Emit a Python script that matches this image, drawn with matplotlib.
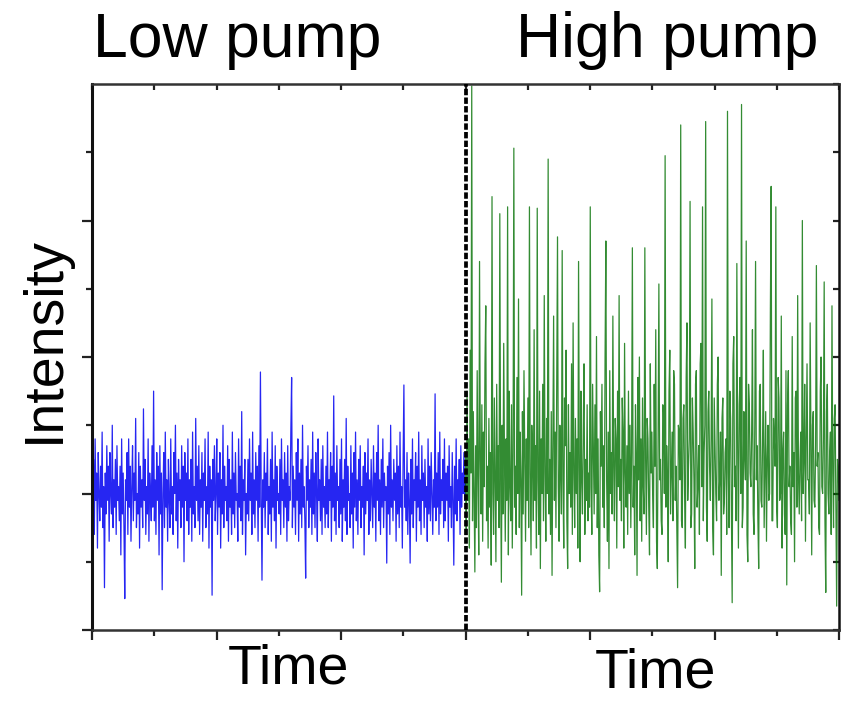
import numpy as np
import matplotlib
matplotlib.use("Agg")
import matplotlib.pyplot as plt

#######################################################
# values (axis units: 1 unit = one minor tick)
LOW_PUMP = [
    2.2, 1.7, 2.5, 1.4, 2.8, 1.9, 2.3, 1.2, 2.6, 2.0, 1.6, 2.4, 1.8, 2.9, 1.5, 2.1, 0.62, 2.3, 1.7, 2.7,
    1.9, 2.4, 1.3, 2.6, 2.0, 1.7, 3.0, 1.5, 2.2, 1.8, 2.5, 1.4, 2.7, 1.9, 2.1, 1.6, 2.4, 1.1, 2.8, 1.7,
    2.3, 1.5, 0.46, 2.2, 1.9, 2.6, 1.4, 2.8, 1.8, 2.4, 1.3, 2.1, 2.7, 1.6, 2.3, 1.9, 3.1, 1.5, 2.0, 1.7,
    2.6, 1.2, 2.4, 1.8, 2.2, 1.5, 3.24, 1.9, 2.5, 1.4, 2.1, 1.7, 2.8, 1.3, 2.3, 2.0, 1.6, 2.7, 1.8, 3.5,
    1.6, 2.2, 1.4, 2.6, 1.9, 2.4, 1.1, 2.7, 1.7, 2.3, 0.59, 2.0, 2.6, 1.5, 2.9, 1.8, 2.2, 1.3, 2.5, 1.9,
    1.5, 2.8, 1.7, 2.1, 1.4, 2.6, 2.0, 3.0, 1.6, 2.3, 1.2, 2.5, 1.9, 2.2, 1.5, 2.7, 1.8, 2.4, 1.0, 2.6,
    1.9, 2.3, 1.6, 2.8, 1.4, 2.2, 1.8, 2.5, 1.3, 2.9, 1.7, 2.1, 1.5, 3.1, 1.9, 2.4, 1.6, 2.7, 1.4, 2.2,
    1.8, 2.6, 1.3, 2.3, 1.9, 2.8, 1.5, 2.1, 1.7, 2.9, 1.2, 2.4, 1.8, 2.2, 0.51, 2.5, 1.9, 2.7, 1.6, 2.0,
    2.8, 1.4, 2.3, 1.8, 2.6, 1.2, 2.2, 1.7, 3.0, 1.5, 2.4, 1.9, 2.1, 1.6, 2.7, 1.3, 2.5, 1.8, 2.2, 1.4,
    2.9, 1.7, 2.3, 1.5, 2.6, 1.9, 2.0, 1.3, 2.8, 1.8, 2.4, 1.6, 3.2, 1.4, 2.2, 1.9, 2.5, 1.1, 2.0, 1.7,
    2.5, 1.6, 2.8, 1.9, 2.3, 1.4, 2.9, 1.7, 2.2, 1.5, 2.6, 1.9, 2.4, 1.3, 2.7, 1.8, 3.78, 2.0, 0.73, 2.2,
    1.8, 2.6, 1.5, 2.3, 1.9, 2.8, 1.4, 2.1, 1.7, 2.5, 1.3, 2.9, 1.8, 2.2, 1.6, 2.7, 1.2, 2.4, 1.9, 2.0,
    1.7, 2.5, 1.4, 2.8, 1.9, 2.2, 1.5, 2.6, 1.8, 2.3, 1.3, 2.7, 1.6, 2.1, 1.9, 2.9, 3.7, 1.5, 2.4, 1.8,
    2.2, 1.4, 2.6, 1.9, 2.8, 1.3, 2.3, 1.7, 2.5, 1.5, 3.0, 1.8, 2.1, 1.6, 0.76, 2.4, 1.9, 2.7, 1.5, 2.2,
    1.8, 2.5, 1.4, 2.9, 1.7, 2.3, 1.5, 2.6, 2.0, 1.3, 2.8, 1.9, 2.2, 1.6, 2.5, 1.4, 2.7, 1.8, 2.1, 1.5,
    2.4, 1.7, 2.9, 1.5, 2.2, 1.9, 2.6, 1.3, 2.4, 1.8, 3.43, 1.6, 2.3, 1.4, 2.7, 1.9, 2.1, 1.5, 2.5, 1.7,
    2.8, 1.3, 2.2, 1.8, 2.5, 1.6, 3.1, 1.4, 2.4, 1.9, 2.0, 1.5, 2.7, 1.7, 2.3, 1.2, 2.6, 1.8, 2.9, 1.6,
    2.2, 1.4, 2.5, 1.9, 2.7, 1.5, 2.1, 1.8, 2.4, 1.1, 2.6, 1.7, 2.3, 1.9, 2.8, 1.4, 2.2, 1.6, 2.5, 2.0,
    1.5, 2.7, 1.8, 2.3, 1.3, 2.6, 1.9, 3.0, 1.6, 2.2, 1.4, 2.5, 1.8, 2.8, 1.5, 2.3, 1.9, 2.1, 0.98, 2.4,
    1.7, 2.6, 1.4, 3.0, 1.8, 2.2, 1.6, 2.5, 1.9, 2.3, 1.3, 2.7, 1.7, 2.4, 1.5, 2.9, 1.8, 2.1, 1.2, 2.5,
    3.59, 1.8, 2.2, 1.6, 2.6, 1.4, 2.3, 1.9, 0.98, 2.5, 1.7, 2.8, 1.5, 2.2, 1.9, 2.6, 1.3, 2.4, 1.8, 2.9,
    1.6, 2.2, 1.4, 2.7, 1.9, 2.3, 1.5, 2.5, 1.8, 2.1, 1.3, 2.8, 1.7, 2.4, 1.6, 2.6, 2.0, 1.4, 2.2, 1.8,
    3.46, 1.6, 2.3, 1.8, 2.6, 1.4, 2.9, 1.7, 2.2, 1.9, 2.5, 1.5, 2.8, 1.6, 2.3, 1.9, 2.4, 1.3, 2.7, 1.8,
    2.1, 1.5, 2.6, 1.9, 0.95, 2.4, 1.7, 2.8, 1.6, 2.2, 1.9, 2.5, 1.4, 2.7, 1.8, 2.3, 2.0, 2.6, 1.9, 2.2,
]
HIGH_PUMP = [
    2.6, 1.4, 3.5, 1.9, 2.8, 1.2, 4.1, 2.3, 7.97, 1.6, 3.2, 2.0, 0.85, 2.7, 1.5, 3.8, 2.2, 1.1, 5.4, 2.5,
    1.7, 3.3, 1.3, 2.9, 2.1, 3.9, 4.75, 1.6, 2.4, 1.2, 3.1, 1.8, 2.6, 0.95, 6.35, 2.0, 1.4, 3.4, 2.2, 1.0,
    3.6, 1.9, 2.7, 1.5, 6.1, 2.3, 0.7, 3.0, 1.7, 4.2, 2.5, 1.3, 2.8, 1.9, 6.2, 1.1, 3.5, 2.1, 1.6, 3.3,
    1.2, 2.6, 7.06, 1.8, 2.4, 1.4, 3.7, 2.0, 4.85, 1.5, 2.9, 2.2, 0.51, 3.2, 1.7, 3.8, 2.5, 1.3, 2.8, 1.9,
    3.4, 1.5, 6.2, 2.3, 1.1, 3.0, 2.6, 1.6, 4.4, 1.9, 2.7, 1.2, 6.18, 2.2, 1.4, 3.5, 0.9, 2.8, 2.0, 3.6,
    1.6, 4.9, 2.3, 1.3, 3.1, 2.0, 6.9, 1.7, 2.5, 1.4, 3.2, 0.8, 2.6, 4.6, 1.9, 2.9, 1.5, 3.7, 5.76, 2.1,
    1.3, 3.0, 2.4, 1.7, 5.56, 2.2, 1.2, 3.4, 2.7, 4.1, 1.6, 0.9, 3.3, 2.0, 2.6, 1.8, 3.9, 1.4, 4.5, 2.3,
    1.5, 3.1, 2.0, 2.8, 1.2, 5.4, 2.4, 1.0, 3.5, 2.2, 1.7, 2.9, 3.9, 1.4, 2.5, 1.9, 3.3, 1.6, 2.3, 1.8,
    6.2, 2.1, 1.4, 3.6, 2.6, 1.7, 3.3, 2.0, 4.3, 1.5, 2.8, 1.1, 0.56, 3.2, 2.4, 3.6, 1.8, 2.7, 1.5, 4.0,
    5.7, 2.2, 1.3, 2.9, 0.9, 3.8, 2.0, 2.6, 1.7, 4.6, 2.4, 1.6, 3.1, 2.8, 1.2, 3.5, 2.1, 4.9, 1.9, 2.5,
    1.6, 3.4, 2.9, 1.2, 4.2, 2.3, 1.8, 2.7, 1.4, 3.5, 2.0, 3.0, 1.5, 2.6, 5.6, 1.8, 2.4, 1.1, 3.3, 2.6,
    0.8, 3.7, 2.2, 4.0, 1.6, 2.8, 1.3, 3.4, 2.1, 1.7, 5.6, 2.5, 1.4, 3.1, 2.8, 1.8, 1.1, 3.9, 2.3, 2.9,
    2.0, 1.5, 3.6, 2.4, 4.4, 1.3, 0.9, 2.8, 5.07, 2.2, 2.5, 1.6, 1.4, 3.3, 3.2, 2.0, 6.95, 1.8, 2.7, 2.3,
    1.0, 3.5, 4.1, 1.7, 2.3, 2.9, 1.6, 3.8, 3.6, 1.9, 2.4, 1.5, 0.62, 3.0, 2.9, 2.2, 7.4, 1.6, 1.5, 3.1,
    3.3, 2.0, 1.2, 3.7, 4.5, 1.9, 2.4, 2.8, 6.28, 1.5, 1.7, 3.4, 2.9, 2.2, 0.9, 3.6, 3.8, 1.8, 2.1, 2.7,
    1.4, 3.9, 4.2, 2.1, 6.2, 1.6, 2.6, 3.0, 7.45, 1.8, 1.3, 3.2, 3.5, 2.4, 1.9, 2.8, 4.85, 1.5, 1.1, 3.4,
    2.7, 2.0, 1.6, 3.6, 4.0, 1.9, 2.2, 2.9, 0.8, 3.1, 3.4, 1.7, 1.9, 2.6, 2.8, 1.4, 7.6, 2.3, 1.5, 3.5,
    3.1, 1.8, 0.4, 3.9, 4.3, 2.1, 2.4, 1.6, 5.37, 2.7, 1.2, 3.3, 3.7, 2.0, 7.7, 1.5, 1.8, 3.2, 2.6, 2.2,
    5.7, 1.4, 1.0, 3.6, 3.3, 2.3, 2.1, 2.9, 4.4, 1.7, 1.4, 3.0, 5.4, 2.2, 2.7, 1.6, 0.9, 3.5, 3.6, 1.9,
    1.8, 2.8, 4.1, 1.5, 2.3, 3.2, 1.3, 2.5, 3.0, 1.9, 2.0, 4.7, 6.5, 1.6, 1.6, 3.1, 2.8, 2.4, 6.2, 1.8,
    1.5, 3.7, 3.4, 1.9, 2.0, 4.6, 1.2, 2.6, 2.9, 1.7, 1.4, 3.8, 0.66, 3.3, 3.8, 2.1, 2.4, 1.6, 1.4, 4.3,
    2.1, 2.6, 1.0, 3.4, 3.5, 1.8, 4.9, 2.3, 1.7, 2.5, 2.9, 1.6, 6.0, 2.0, 2.5, 3.6, 1.3, 2.8, 3.9, 2.2,
    2.2, 1.7, 4.5, 2.9, 1.1, 3.0, 3.2, 1.9, 1.8, 2.7, 5.34, 2.4, 2.6, 1.5, 1.4, 3.5, 4.0, 2.1, 2.0, 2.8,
    5.1, 1.6, 0.55, 3.2, 3.6, 2.0, 1.7, 2.6, 2.9, 1.4, 4.75, 2.3, 1.5, 3.1, 3.3, 1.8, 0.35, 2.5, 2.4, 1.9,
]
TITLES = ["Low pump", "High pump"]
X_LABEL = "Time"
Y_LABEL = "Intensity"
SPLIT = 6
X_END = 12
#######################################################

plt.rcParams["font.family"] = ["Liberation Sans", "DejaVu Sans"]

fig = plt.figure(figsize=(8.44, 7.02), dpi=100)
ax = fig.add_axes([92 / 844, 1 - 630 / 702, 747 / 844, 546 / 702])

t_low = np.linspace(0, SPLIT, len(LOW_PUMP))
t_high = np.linspace(SPLIT, X_END, len(HIGH_PUMP))
ax.plot(t_low, LOW_PUMP, color="#0000f0", lw=0.9, alpha=0.85)
ax.plot(t_high, HIGH_PUMP, color="#006f00", lw=0.9, alpha=0.8)
ax.axvline(SPLIT, color="black", lw=2.7, ls=(0, (1.7, 0.6)), zorder=5)

ax.set_xlim(0, X_END)
ax.set_ylim(0, 8)
ax.set_xticks(np.arange(0, X_END + 1, 2))
ax.set_xticks(np.arange(1, X_END, 2), minor=True)
ax.set_yticks([0, 2, 4, 6])
ax.set_yticks([1, 3, 5, 7], minor=True)
ax.tick_params(which="both", direction="out", width=1.6, color="#222222",
               labelbottom=False, labelleft=False)
ax.tick_params(which="major", length=7)
ax.tick_params(which="minor", length=4)

# mirrored inward ticks on top and right
top = ax.secondary_xaxis("top")
top.set_xticks(np.arange(0, X_END + 1, 1))
top.tick_params(direction="in", length=4, width=1.6, color="#222222", labeltop=False)
right = ax.secondary_yaxis("right")
right.set_yticks(np.arange(0, 9, 1))
right.tick_params(direction="in", length=4, width=1.6, color="#222222", labelright=False)
for a in (top, right):
    for s in a.spines.values():
        s.set_visible(False)

for s in ax.spines.values():
    s.set_linewidth(1.8)
    s.set_color("#333333")
ax.spines["left"].set_color("#111111")
ax.spines["left"].set_linewidth(2.2)
ax.spines["right"].set_color("#111111")

fig.text(237 / 844, 1 - 57 / 702, TITLES[0], fontsize=45, ha="center", va="baseline")
fig.text(667 / 844, 1 - 57 / 702, TITLES[1], fontsize=45, ha="center", va="baseline")
fig.text(288 / 844, 1 - 684 / 702, X_LABEL, fontsize=40, ha="center", va="baseline")
fig.text(655 / 844, 1 - 688 / 702, X_LABEL, fontsize=40, ha="center", va="baseline")
fig.text(45 / 844, 1 - 340 / 702, Y_LABEL, fontsize=40, rotation=90, ha="center", va="center")

fig.savefig("out.png", dpi=100)
